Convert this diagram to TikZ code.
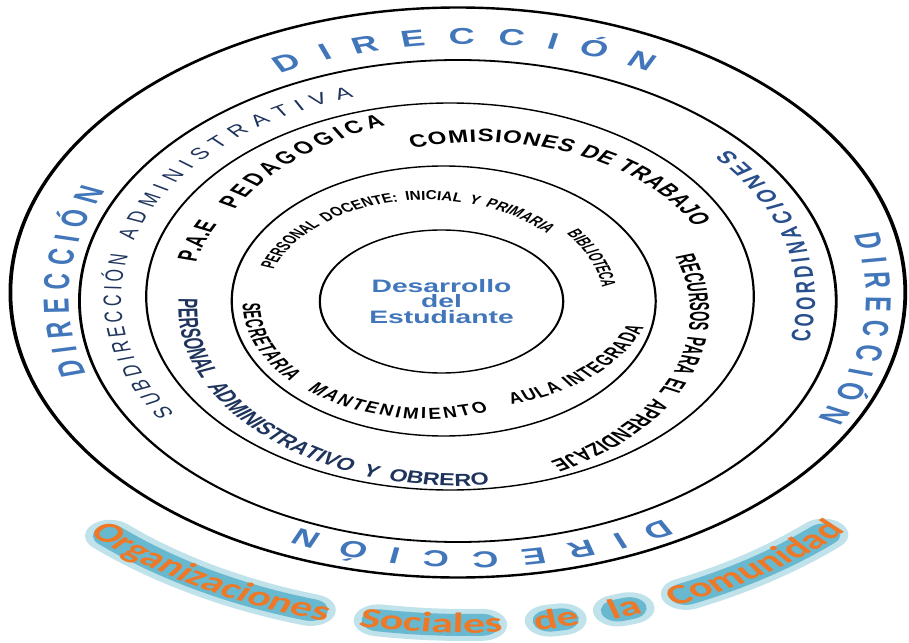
\documentclass[tikz,border=0pt]{standalone}
\usepackage{fontspec}
\setmainfont{Liberation Sans}
\newfontfamily\arialf{Liberation Sans}
\newfontfamily\condf{Liberation Sans}[FakeStretch=0.85]
\newfontfamily\narrf{Liberation Sans}[FakeStretch=0.75]
\newfontfamily\calf{Carlito}
\usetikzlibrary{calc,decorations.text,shapes.geometric}
\definecolor{dirblue}{RGB}{66,118,186}
\definecolor{darknavy}{RGB}{31,52,92}
\definecolor{coordblue}{RGB}{40,78,140}
\definecolor{orgorange}{RGB}{237,120,40}
\definecolor{glow}{RGB}{75,172,198}
\newcommand\dirtxt{\arialf\bfseries\fontsize{23}{23}\selectfont\color{dirblue}}
\newcommand\subtxt{\arialf\fontsize{16}{16}\selectfont\color{darknavy}}
\newcommand\coordtxt{\arialf\bfseries\fontsize{17}{17}\selectfont\color{coordblue}}
\newcommand\midtxt{\condf\bfseries\fontsize{18}{18}\selectfont}
\newcommand\admtxt{\condf\bfseries\fontsize{17.5}{17.5}\selectfont\color{darknavy}}
\newcommand\rectxt{\narrf\bfseries\fontsize{17.5}{17.5}\selectfont}
\newcommand\smalltxt{\narrf\bfseries\fontsize{13}{13}\selectfont}
\newcommand\innertxt{\narrf\bfseries\fontsize{16}{16}\selectfont}
\newcommand\orgtxt{\calf\bfseries\fontsize{28}{28}\selectfont\color{orgorange}}
\begin{document}
\begin{tikzpicture}[x=1pt,y=1pt]
\tikzstyle{Ring} = [draw, shape=circle, inner sep=0, outer sep=0, line width=1.4]
\tikzstyle{Core} = [draw, shape=ellipse, inner sep=0, outer sep=0, line width=1.4, align=center, text=dirblue, font={\arialf\bfseries\fontsize{18}{15.5}\selectfont}]
\tikzstyle{inv} = [outer sep=0, inner sep=0, minimum size=0]
\tikzstyle{Curve} = [decorate, decoration={text along path, text align=fit to path}]
\tikzstyle{Spread} = [decorate, decoration={text along path, text align=fit to path stretching spaces}]
\tikzstyle{Glow} = [draw=glow, line cap=round, line width=22, opacity=.75]
\tikzstyle{Halo} = [draw=glow, line cap=round, line width=32, opacity=.35]
\path [use as bounding box, fill=white] (-450,-344) rectangle (459,298);
\begin{scope}[transform canvas={xscale=1.57}]
\node [Ring, line width=2.4, minimum size=570] (r5) at (5,5.5) {};
\node [Ring, line width=1.8, minimum size=482] (r4) at (5,-3) {};
\node [Ring, minimum size=387] (r3) at (0,1.5) {};
\node [Ring, minimum size=270] (r2) at (-4,-3) {};
\node [Core, minimum width=155, minimum height=143] (r1) at (-5.4,-3.5) {Desarrollo\\del\\Estudiante};
\node [inv] (o1) at (11,0) {};
\node [inv] (o2) at (2.5,-1) {};
\node [inv] (o3) at (-2,-1) {};
\node [inv] (o4) at (20,5) {};
\node [inv] (o5) at (-15,-15) {};
\node [inv] (o6) at (5,-10) {};
\node [inv] (o7) at (-15,-5) {};
\node [inv] (o8) at (10,10) {};
\node [inv] (o9) at (10,5) {};
% outer band
\path [Curve, decoration={text={|\dirtxt|DIRECCIÓN}}] ($(o1)+(118:254)$) arc[start angle=118, end angle=63, radius=254];
\path [Curve, decoration={text={|\dirtxt|DIRECCIÓN}}] ($(o1)+(197.5:254)$) arc[start angle=197.5, end angle=155, radius=254];
\path [Curve, decoration={text={|\dirtxt|DIRECCIÓN}}] ($(o1)+(14.5:254)$) arc[start angle=14.5, end angle=-28.5, radius=254];
\path [Curve, decoration={text={|\dirtxt|DIRECCIÓN}}] ($(o1)+(-60.5:254)$) arc[start angle=-60.5, end angle=-115, radius=254];
% second band
\path [Curve, decoration={text={|\subtxt|SUBDIRECCIÓN}}] ($(o2)+(213:212)$) arc[start angle=213, end angle=168, radius=212];
\path [Curve, decoration={text={|\subtxt|ADMINISTRATIVA}}] ($(o2)+(164:212)$) arc[start angle=164, end angle=107.5, radius=212];
\path [Curve, decoration={text={|\coordtxt|COORDINACIONES}}] ($(o2)+(-11:230)$) arc[start angle=-11, end angle=40.5, radius=230];
% third band
\path [Curve, decoration={text={|\midtxt|P.A.E}}] ($(o3)+(167:164)$) arc[start angle=167, end angle=153, radius=164];
\path [Curve, decoration={text={|\midtxt|PEDAGOGICA}}] ($(o4)+(152:178)$) arc[start angle=152, end angle=110, radius=178];
\path [Curve, decoration={text={|\midtxt|COMISIONES DE TRABAJO}}] ($(o4)+(107:151)$) arc[start angle=107, end angle=26, radius=151];
\path [Spread, decoration={text={|\rectxt|RECURSOS PARA EL APRENDIZAJE}}] ($(o5)+(19.5:168)$) arc[start angle=19.5, end angle=-62, radius=168];
\path [Spread, decoration={text={|\admtxt|PERSONAL ADMINISTRATIVO Y OBRERO}}] ($(o6)+(177:178)$) arc[start angle=177, end angle=276.5, radius=178];
% inner band
\path [Spread, decoration={text={|\smalltxt|PERSONAL DOCENTE: INICIAL Y PRIMARIA}}] ($(o7)+(161:103)$) arc[start angle=161, end angle=42, radius=103];
\path [Curve, decoration={text={|\smalltxt|BIBLIOTECA}}] ($(o7)+(38:113)$) arc[start angle=38, end angle=8, radius=113];
\path [Curve, decoration={text={|\innertxt|SECRETARIA}}] ($(o7)+(180:117)$) arc[start angle=180, end angle=222, radius=117];
\path [Curve, decoration={text={|\innertxt|MANTENIMIENTO}}] ($(o7)+(229:116)$) arc[start angle=229, end angle=290, radius=116];
\path [Curve, decoration={text={|\innertxt|AULA INTEGRADA}}] ($(o8)+(284:120)$) arc[start angle=284, end angle=341, radius=120];
% community
\draw [Halo] ($(o9)+(227:332)$) arc[start angle=227, end angle=252.7, radius=332];
\draw [Glow] ($(o9)+(227:332)$) arc[start angle=227, end angle=252.7, radius=332];
\draw [Halo] ($(o9)+(260.4:332)$) arc[start angle=260.4, end angle=271.8, radius=332];
\draw [Glow] ($(o9)+(260.4:332)$) arc[start angle=260.4, end angle=271.8, radius=332];
\draw [Halo] ($(o9)+(279.3:332)$) arc[start angle=279.3, end angle=280.6, radius=332];
\draw [Glow] ($(o9)+(279.3:332)$) arc[start angle=279.3, end angle=280.6, radius=332];
\draw [Halo] ($(o9)+(287:332)$) arc[start angle=287, end angle=288.3, radius=332];
\draw [Glow] ($(o9)+(287:332)$) arc[start angle=287, end angle=288.3, radius=332];
\draw [Halo] ($(o9)+(295:332)$) arc[start angle=295, end angle=313.3, radius=332];
\draw [Glow] ($(o9)+(295:332)$) arc[start angle=295, end angle=313.3, radius=332];
\path [Spread, decoration={text={|\orgtxt|Organizaciones Sociales de la Comunidad}}] ($(o9)+(225:340)$) arc[start angle=225, end angle=315.5, radius=340];
\end{scope}
\end{tikzpicture}
\end{document}
